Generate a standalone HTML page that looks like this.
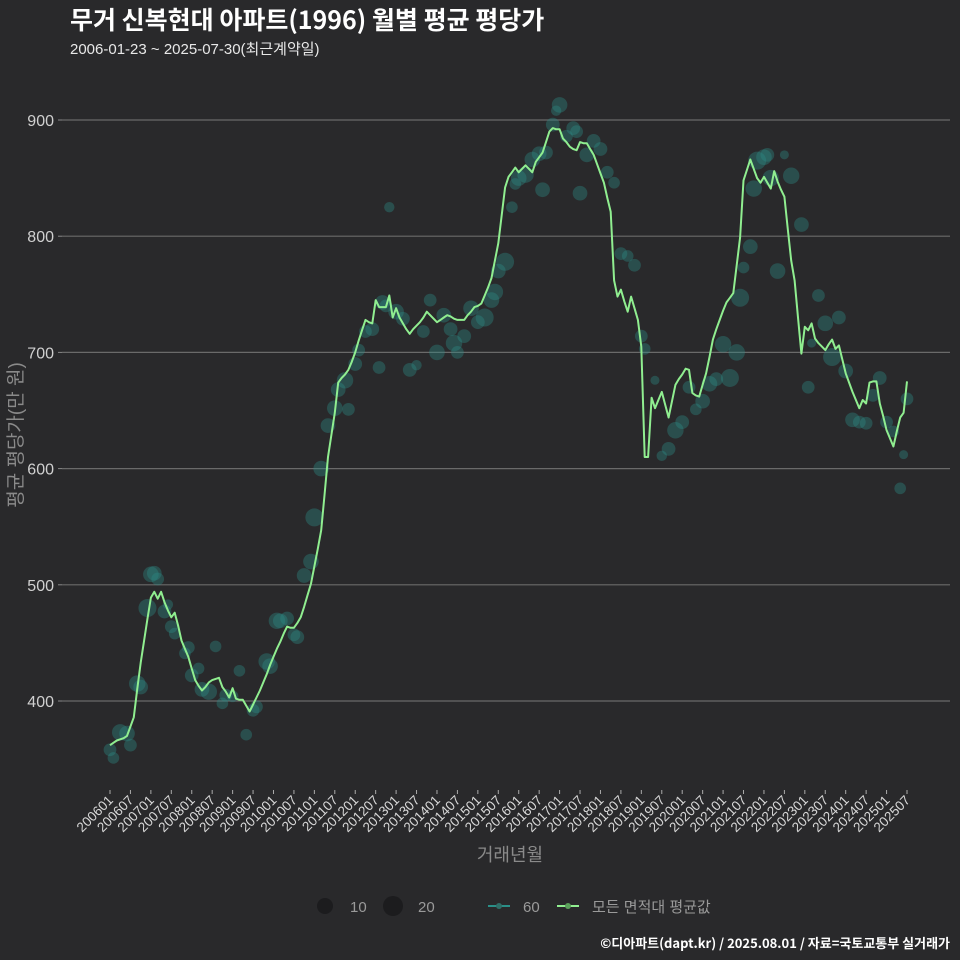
<!DOCTYPE html>
<html><head><meta charset="utf-8">
<style>
html,body{margin:0;padding:0;background:#29292b;}
svg{display:block;font-family:"Liberation Sans","Noto Sans CJK KR",sans-serif;}
</style></head>
<body>
<svg id="chart" width="960" height="960" viewBox="0 0 960 960" xmlns="http://www.w3.org/2000/svg">
<rect width="960" height="960" fill="#29292b"/>
<text x="70" y="29" fill="#ffffff" font-size="25" font-weight="bold" font-family="'Noto Sans CJK KR',sans-serif">무거 신복현대 아파트(1996) 월별 평균 평당가</text>
<text x="70" y="54" fill="#e8e8e8" font-size="15" font-family="'Liberation Sans','Noto Sans CJK KR',sans-serif">2006-01-23 ~ 2025-07-30(최근계약일)</text>
<g id="grid"></g>
<g id="bubbles"></g>
<g id="lines"></g>
<g id="xaxis"></g>
<text x="0" y="0" transform="translate(22,435) rotate(-90)" text-anchor="middle" fill="#8a8a8a" font-size="19" font-family="'Liberation Sans','Noto Sans CJK KR',sans-serif">평균 평당가(만 원)</text>
<text x="510" y="861" text-anchor="middle" fill="#8a8a8a" font-size="18" font-family="'Noto Sans CJK KR',sans-serif">거래년월</text>
<g font-family="'Liberation Sans','Noto Sans CJK KR',sans-serif" font-size="15" fill="#9a9a9a">
<circle cx="325" cy="906" r="8" fill="#1c1c1e"/>
<text x="350" y="912">10</text>
<circle cx="393" cy="906" r="10" fill="#1c1c1e"/>
<text x="418" y="912">20</text>
<line x1="488" y1="906" x2="510" y2="906" stroke="#2a8f88" stroke-width="2"/>
<circle cx="499" cy="906" r="3" fill="#2f6f68"/>
<text x="523" y="912">60</text>
<line x1="557" y1="906" x2="579" y2="906" stroke="#90ee90" stroke-width="2"/>
<circle cx="568" cy="906" r="3" fill="#5aa05a"/>
<text x="592" y="912">모든 면적대 평균값</text>
</g>
<text x="950" y="948" text-anchor="end" fill="#ffffff" font-size="13" font-weight="bold" font-family="'Noto Sans CJK KR',sans-serif">©디아파트(dapt.kr) / 2025.08.01 / 자료=국토교통부 실거래가</text>
</svg>
<script>
const yTicks = [400, 500, 600, 700, 800, 900];
const avgValues = [
362,364,366,367,368,370,378,386,410,433,452,471,
489,494,488,494,485,478,472,476,465,452,445,438,
428,418,413,409,412,416,418,419,420,412,408,403,
411,402,401,401,396,391,397,403,409,416,423,431,
438,445,451,458,464,463,463,467,472,481,491,501,
516,531,547,578,610,629,648,674,678,681,685,692,
700,710,719,728,726,725,745,739,739,739,749,730,
738,730,725,720,716,720,723,726,730,735,732,729,
726,728,730,732,731,729,728,728,728,732,735,739,
740,742,749,756,764,779,794,818,842,851,855,859,
855,858,861,858,855,864,868,872,881,890,893,892,
892,884,881,877,875,874,881,880,880,875,870,862,
854,846,833,821,762,748,754,744,735,748,738,728,
705,610,610,661,652,659,666,655,644,658,672,677,
681,686,685,665,663,662,672,682,696,711,720,728,
736,743,747,751,775,799,848,857,866,858,850,846,
851,846,841,856,847,840,834,806,779,762,730,699,
722,719,725,712,708,705,702,707,711,703,706,694,
682,674,666,659,652,659,656,674,675,675,656,645,
633,626,619,632,644,648,675];
const bubbleMonths = [0,1,3,5,6,8,9,11,12,13,14,16,17,18,19,22,23,24,26,27,29,31,33,34,36,38,40,42,43,46,47,49,50,52,54,55,57,59,60,62,64,66,67,69,70,72,73,75,77,79,80,81,82,84,86,88,90,92,94,96,98,100,101,102,104,106,108,110,112,113,114,116,118,119,120,122,124,126,127,128,130,131,132,134,136,137,138,140,142,144,146,148,150,152,154,156,157,160,162,164,166,168,170,172,174,176,178,180,182,184,185,186,188,189,190,192,193,194,196,198,200,203,205,206,208,210,212,214,216,218,220,222,224,226,228,230,232,233,234];
const bubbleValues = [358,351,373,372,362,415,412,480,509,510,505,477,483,464,458,441,446,422,428,410,408,447,398,405,404,426,371,392,395,434,430,469,469,471,457,455,508,520,558,600,637,652,668,676,651,690,702,718,720,687,743,740,825,735,729,685,689,718,745,700,732,720,708,700,714,738,726,730,745,752,770,778,825,845,850,853,866,871,840,872,896,908,913,886,893,890,837,870,882,875,855,846,785,783,775,714,703,676,611,617,633,640,670,651,658,673,677,707,678,700,747,773,791,841,865,868,870,850,770,870,852,810,670,708,749,725,696,730,684,642,640,639,663,678,640,632,583,612,660,691];
const bubbleCounts = [6,5,10,9,6,10,8,12,9,8,6,7,4,6,5,5,6,7,5,8,10,5,5,6,5,5,5,6,6,10,9,10,8,7,6,7,8,9,12,9,8,9,8,10,6,7,6,6,7,6,8,6,4,9,7,7,4,6,6,9,8,7,10,6,7,9,7,12,9,10,8,12,5,5,9,10,9,8,8,7,7,4,9,6,7,6,8,8,7,7,6,5,6,5,6,6,5,3,4,7,10,7,6,5,8,9,7,10,12,10,12,5,8,10,12,9,7,10,9,3,10,8,6,3,6,9,12,7,8,8,6,6,6,7,6,5,5,3,6,6,6];
const xLabels = ["200601","200607","200701","200707","200801","200807","200901","200907","201001","201007","201101","201107","201201","201207","201301","201307","201401","201407","201501","201507","201601","201607","201701","201707","201801","201807","201901","201907","202001","202007","202101","202107","202201","202207","202301","202307","202401","202407","202501","202507"];

const NS = "http://www.w3.org/2000/svg";
function xPos(m){ return 110 + m * 3.406; }
function yPos(v){ return 120 + (900 - v) * 1.162; }
function labelMonth(s){ return (parseInt(s.slice(0,4)) - 2006) * 12 + parseInt(s.slice(4)) - 1; }

const grid = document.getElementById('grid');
yTicks.forEach(function(t){
  const y = yPos(t);
  const ln = document.createElementNS(NS,'line');
  ln.setAttribute('x1',62); ln.setAttribute('x2',950);
  ln.setAttribute('y1',y); ln.setAttribute('y2',y);
  ln.setAttribute('stroke','#6a6a6a'); ln.setAttribute('stroke-width','1.2');
  
  
  grid.appendChild(ln);
  const tk = document.createElementNS(NS,'line');
  tk.setAttribute('x1',58); tk.setAttribute('x2',62);
  tk.setAttribute('y1',y); tk.setAttribute('y2',y);
  tk.setAttribute('stroke','#888');
  
  
  grid.appendChild(tk);
  const tx = document.createElementNS(NS,'text');
  tx.setAttribute('x',54); tx.setAttribute('y',y+6);
  tx.setAttribute('text-anchor','end'); tx.setAttribute('fill','#d0d0d0');
  tx.setAttribute('font-size','16');
  tx.textContent = t;
  
  
  grid.appendChild(tx);
});

const bub = document.getElementById('bubbles');
bubbleMonths.forEach(function(m,i){
  const c = document.createElementNS(NS,'circle');
  c.setAttribute('cx', xPos(m));
  c.setAttribute('cy', yPos(bubbleValues[i]));
  c.setAttribute('r', Math.sqrt(bubbleCounts[i]) * 2.6);
  c.setAttribute('fill','rgba(45,140,134,0.38)');
  
  
  bub.appendChild(c);
});

const lines = document.getElementById('lines');
const pts = avgValues.map(function(v,i){ return xPos(i).toFixed(1) + ',' + yPos(v).toFixed(1); }).join(' ');
const pl = document.createElementNS(NS,'polyline');
pl.setAttribute('points', pts);
pl.setAttribute('fill','none');
pl.setAttribute('stroke','#90ee90');
pl.setAttribute('stroke-width','2');
pl.setAttribute('stroke-linejoin','round');


lines.appendChild(pl);

const xa = document.getElementById('xaxis');
xLabels.forEach(function(l){
  const x = xPos(labelMonth(l));
  const tk = document.createElementNS(NS,'line');
  tk.setAttribute('x1',x); tk.setAttribute('x2',x);
  tk.setAttribute('y1',790); tk.setAttribute('y2',794);
  tk.setAttribute('stroke','#aaa');
  
  
  xa.appendChild(tk);
  const tx = document.createElementNS(NS,'text');
  tx.setAttribute('transform','translate(' + (x+4) + ',801) rotate(-45)');
  tx.setAttribute('text-anchor','end');
  tx.setAttribute('fill','#d8d8d8');
  tx.setAttribute('font-size','13.5');
  tx.textContent = l;
  
  
  xa.appendChild(tx);
});
</script>
</body></html>
